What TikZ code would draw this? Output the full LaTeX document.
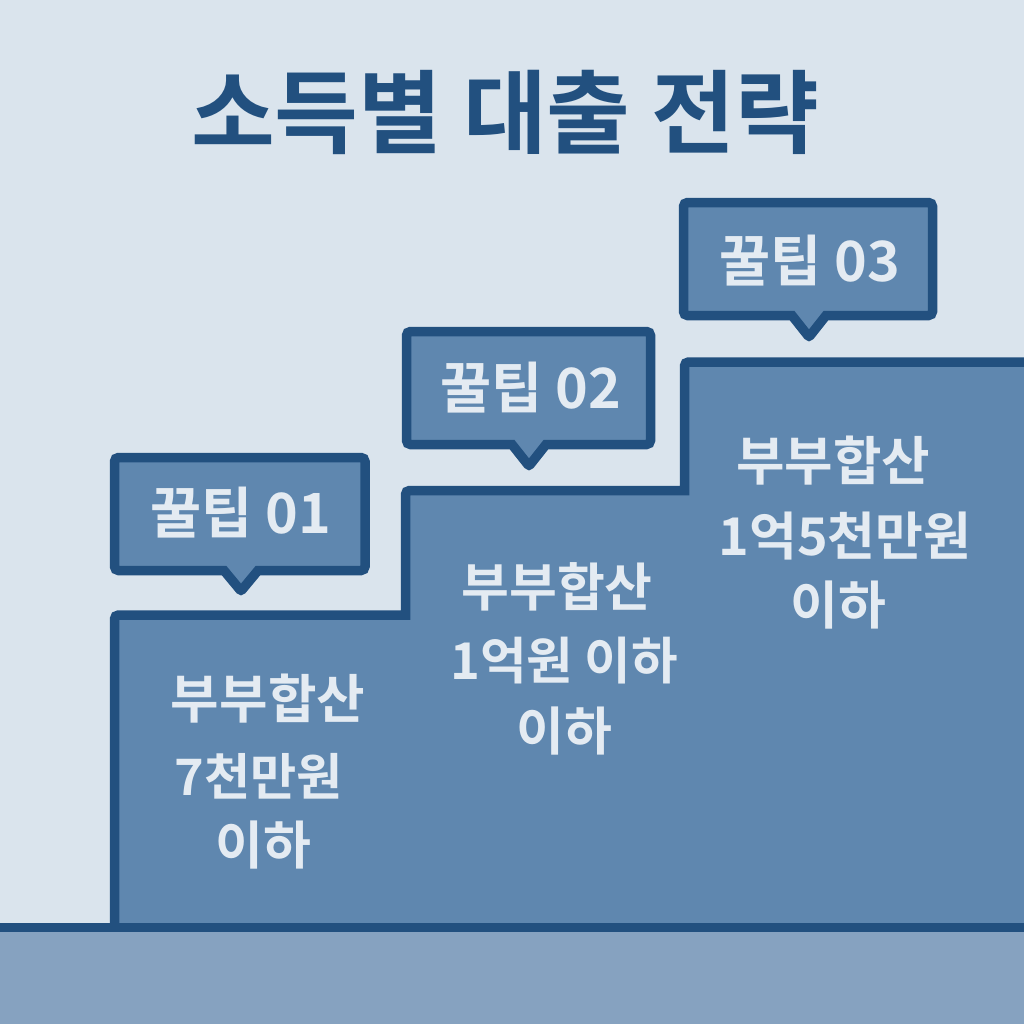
\documentclass[tikz,border=0pt]{standalone}
\usepackage{fontspec}
\setmainfont{Noto Sans CJK KR}[BoldFont={Noto Sans CJK KR Bold}]
\definecolor{bgc}{HTML}{DAE4ED}
\definecolor{edgec}{HTML}{22507F}
\definecolor{stepc}{HTML}{5F87AF}
\definecolor{floorc}{HTML}{86A2C0}
\definecolor{txtc}{HTML}{E4EBF2}
\tikzset{
  tipbox/.style={draw=edgec, fill=stepc, line width=9.5mm, line join=miter},
  tiptext/.style={text=txtc, font=\fontsize{158}{158}\selectfont\bfseries, inner sep=0pt},
  bodytext/.style={text=txtc, font=\fontsize{148}{148}\selectfont\bfseries, inner sep=0pt}
}
\begin{document}
\begin{tikzpicture}[x=1mm,y=-1mm]
  % 1 unit = 1 px
  \fill [bgc] (0,0) rectangle (1024,1024);
  \useasboundingbox (0,0) rectangle (1024,1024);
  \fill [floorc] (0,928) rectangle (1024,1024);
  \draw [draw=edgec, fill=stepc, line width=9.5mm] (114.5,940) [rounded corners=4mm] -- (114.5,615) [sharp corners] -- (405.5,615) [rounded corners=4mm] -- (405.5,490.5) [sharp corners] -- (684.5,490.5) [rounded corners=4mm] -- (684.5,362) [sharp corners] -- (1050,362) -- (1050,940) -- cycle;
  \fill [floorc] (0,932) rectangle (1024,1024);
  \draw [draw=edgec, line width=9mm] (0,927.5) -- (1024,927.5);
  % title
  \node (title) at (505,112) [text=edgec, font=\fontsize{259}{259}\selectfont\bfseries, inner sep=0pt] {소득별 대출 전략};
  % tips
  \draw [tipbox] (224,570.5) [rounded corners=4mm] -- (114.5,570.5) -- (114.5,457.5) -- (365,457.5) -- (365,570.5) [sharp corners] -- (258,570.5) [rounded corners=2mm] -- (241,591) [sharp corners] -- cycle;
  \node (tipa) at (241,513) [tiptext] {꿀팁 01};
  \draw [tipbox] (512,444.5) [rounded corners=4mm] -- (406.5,444.5) -- (406.5,331.5) -- (650.5,331.5) -- (650.5,444.5) [sharp corners] -- (546,444.5) [rounded corners=2mm] -- (529,466) [sharp corners] -- cycle;
  \node (tipb) at (531,388) [tiptext] {꿀팁 02};
  \draw [tipbox] (792,315.5) [rounded corners=4mm] -- (683.5,315.5) -- (683.5,202.5) -- (932.5,202.5) -- (932.5,315.5) [sharp corners] -- (826,315.5) [rounded corners=2mm] -- (809,337) [sharp corners] -- cycle;
  \node (tipc) at (810,261) [tiptext] {꿀팁 03};
  % step labels
  \node (lowa) at (268,699) [bodytext, font=\fontsize{150}{150}\selectfont\bfseries] {부부합산};
  \node (lowb) at (259,776) [bodytext, font=\fontsize{143}{143}\selectfont\bfseries] {7천만원};
  \node (lowc) at (263,845) [bodytext] {이하};
  \node (mida) at (557,587) [bodytext] {부부합산};
  \node (midb) at (564,661) [bodytext, font=\fontsize{144}{144}\selectfont\bfseries] {1억원 이하};
  \node (midc) at (564,731) [bodytext] {이하};
  \node (higha) at (833,461) [bodytext, font=\fontsize{150}{150}\selectfont\bfseries] {부부합산};
  \node (highb) at (845,536) [bodytext] {1억5천만원};
  \node (highc) at (838,605) [bodytext] {이하};
\end{tikzpicture}
\end{document}
